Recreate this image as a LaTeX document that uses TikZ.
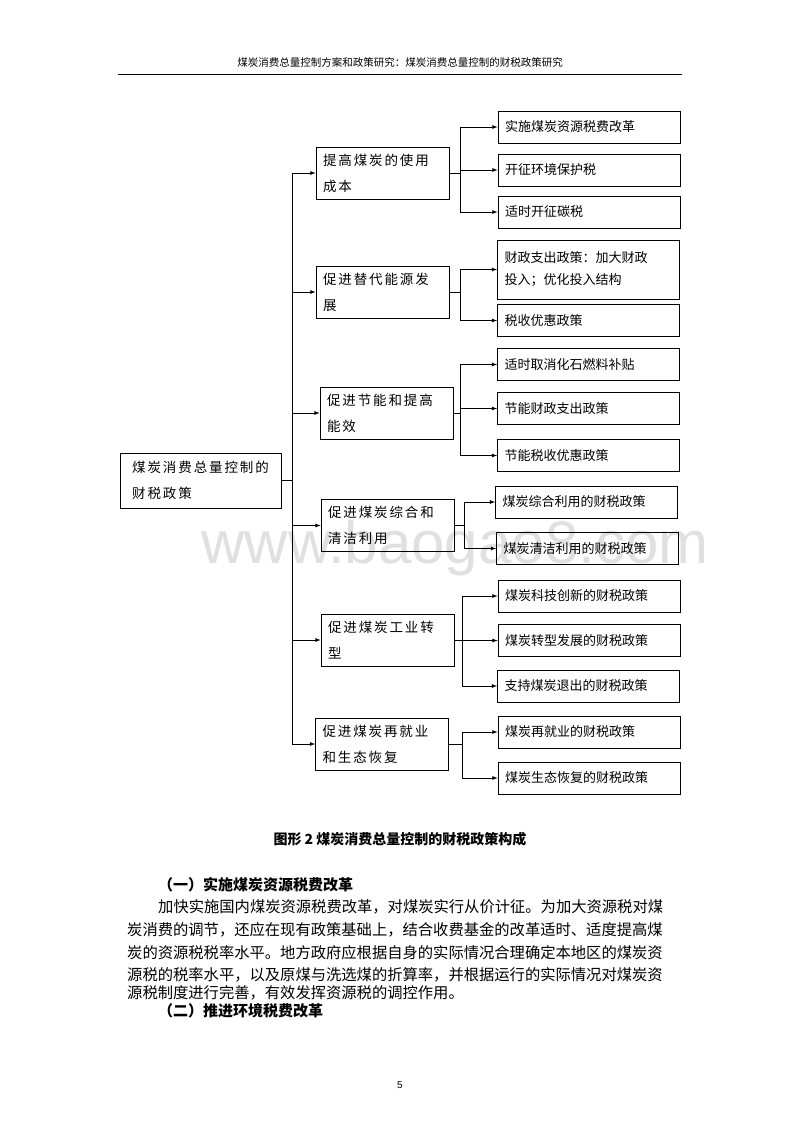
\documentclass[tikz,border=0pt]{standalone}
\usepackage{fontspec}
\setmainfont{Liberation Serif}
\newfontfamily\cjk{Noto Sans CJK SC}
\newfontfamily\cjkwide[LetterSpace=14]{Noto Sans CJK SC}
\usetikzlibrary{arrows}
\usetikzlibrary{positioning}

\tikzset{
  rootbox/.style={draw,thick,minimum width=161pt,minimum height=55pt,inner sep=6pt,align=left,font=\fontsize{13.5}{26}\cjkwide},
  midbox/.style={draw,thick,minimum width=133pt,minimum height=52pt,inner sep=6pt,align=left,text width=119pt,font=\fontsize{13.5}{26}\cjkwide},
  leafbox/.style={draw,thick,minimum width=182pt,minimum height=32pt,inner sep=6pt,align=left,text width=168pt,font=\fontsize{13}{22}\cjk},
  arr/.style={thick,-latex},
  ln/.style={thick},
  bodyline/.style={anchor=west,inner sep=0pt,font=\fontsize{15.3}{18}\cjk},
}

\begin{document}
\begin{tikzpicture}[x=1pt,y=-1pt]
  \useasboundingbox[fill=white] (0,0) rectangle (800,1132);
  % header
  \node (head) at (400,62) [font=\fontsize{10.5}{12}\cjk]{煤炭消费总量控制方案和政策研究：煤炭消费总量控制的财税政策研究};
  \draw (118,74) -- (682,74);
  % watermark
  \node (wm) at (455,548) [text=black!12,font=\fontsize{60}{60}\fontspec{Liberation Sans}]{www.baogao8.com};

  % root and middle level
  \node[rootbox] (root) at (200.5,480.5) {煤炭消费总量控制的\\财税政策};
  \node[midbox] (m1) at (382.5,173) {提高煤炭的使用\\成本};
  \node[midbox] (m2) at (382.5,292) {促进替代能源发\\展};
  \node[midbox] (m3) at (386.5,413) {促进节能和提高\\能效};
  \node[midbox] (m4) at (387.5,525.5) {促进煤炭综合和\\清洁利用};
  \node[midbox] (m5) at (387.5,640) {促进煤炭工业转\\型};
  \node[midbox] (m6) at (382,744) {促进煤炭再就业\\和生态恢复};

  % leaves
  \node[leafbox] (r1) at (589,127) {实施煤炭资源税费改革};
  \node[leafbox] (r2) at (589,170) {开征环境保护税};
  \node[leafbox] (r3) at (589,212) {适时开征碳税};
  \node[leafbox,minimum height=59pt] (r4) at (588.5,269.5) {财政支出政策：加大财政\\投入；优化投入结构};
  \node[leafbox] (r5) at (588.5,320.5) {税收优惠政策};
  \node[leafbox] (r6) at (588.5,364.5) {适时取消化石燃料补贴};
  \node[leafbox] (r7) at (588.5,408.5) {节能财政支出政策};
  \node[leafbox] (r8) at (588.5,455.5) {节能税收优惠政策};
  \node[leafbox] (r9) at (586.5,502) {煤炭综合利用的财税政策};
  \node[leafbox] (r10) at (587.5,548.5) {煤炭清洁利用的财税政策};
  \node[leafbox] (r11) at (589,596) {煤炭科技创新的财税政策};
  \node[leafbox] (r12) at (589,640.5) {煤炭转型发展的财税政策};
  \node[leafbox] (r13) at (588.5,686) {支持煤炭退出的财税政策};
  \node[leafbox] (r14) at (589,732) {煤炭再就业的财税政策};
  \node[leafbox] (r15) at (589,778) {煤炭生态恢复的财税政策};

  % trunk
  \coordinate (tx) at (292,0);
  \coordinate (tk) at (root.east -| tx);
  \draw[ln] (root.east) -- (tk);
  \foreach \m in {m1,m2,m3,m4,m5,m6}
    \draw[arr] (tk) |- (\m.west);

  % branches
  \foreach \m/\bx/\leaves in {m1/460/{r1,r2,r3},m2/460/{r4,r5},m3/460/{r6,r7,r8},
                              m4/464/{r9,r10},m5/462/{r11,r12,r13},m6/462/{r14,r15}}{
    \coordinate (bx) at (\bx,0);
    \coordinate (b\m) at (\m.east -| bx);
    \draw[ln] (\m.east) -- (b\m);
    \foreach \r in \leaves
      \draw[arr] (b\m) |- (\r.west);
  }

  % caption and text
  \node (cap) at (400,839) [font=\fontsize{14}{16}\cjk\bfseries]{图形 2 煤炭消费总量控制的财税政策构成};
  \node[bodyline,font=\fontsize{15}{18}\cjk\bfseries] (h1) at (158,885) {（一）实施煤炭资源税费改革};
  \node[bodyline] (l1) at (158,907) {加快实施国内煤炭资源税费改革，对煤炭实行从价计征。为加大资源税对煤};
  \node[bodyline] (l2) at (127,930) {炭消费的调节，还应在现有政策基础上，结合收费基金的改革适时、适度提高煤};
  \node[bodyline] (l3) at (127,953) {炭的资源税税率水平。地方政府应根据自身的实际情况合理确定本地区的煤炭资};
  \node[bodyline] (l4) at (127,975) {源税的税率水平，以及原煤与洗选煤的折算率，并根据运行的实际情况对煤炭资};
  \node[bodyline] (l5) at (127,993) {源税制度进行完善，有效发挥资源税的调控作用。};
  \node[bodyline,font=\fontsize{15}{18}\cjk\bfseries] (h2) at (158,1011) {（二）推进环境税费改革};
  \node (pg) at (400,1085) [font=\fontsize{10}{12}\fontspec{Liberation Sans}]{5};
\end{tikzpicture}
\end{document}
